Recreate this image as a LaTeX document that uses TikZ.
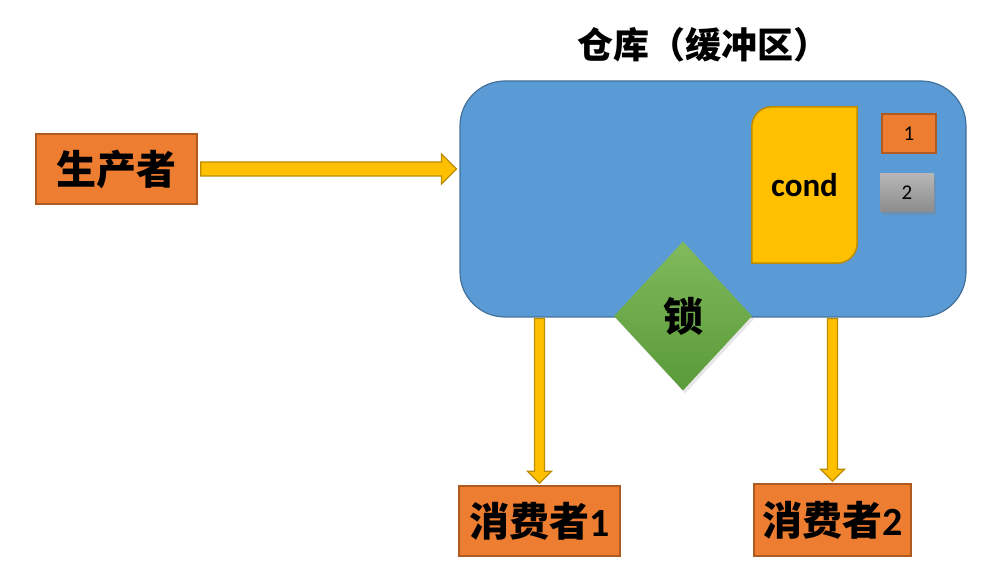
\documentclass[tikz,border=0pt]{standalone}
\usepackage{fontspec}
\setmainfont{Carlito}
\newfontfamily\cjk{Noto Sans CJK SC}
\usetikzlibrary{shapes.geometric,shadows,calc}
\definecolor{boxorange}{HTML}{ED7D31}
\definecolor{boxorangeedge}{HTML}{AE5A21}
\definecolor{flowyellow}{HTML}{FFC000}
\definecolor{flowyellowedge}{HTML}{BC8C00}
\definecolor{storeblue}{HTML}{5B9BD5}
\definecolor{storeblueedge}{HTML}{41719C}
\definecolor{locktop}{HTML}{80BA5C}
\definecolor{lockbot}{HTML}{5A9A38}
\definecolor{slottop}{HTML}{B6B6B6}
\definecolor{slotbot}{HTML}{8C8C8C}
\tikzset{
  actor/.style={rectangle, draw=boxorangeedge, line width=1.5pt, fill=boxorange, minimum width=161pt, minimum height=70pt, inner sep=0pt, font=\fontsize{40}{42}\selectfont\bfseries},
  store/.style={rectangle, rounded corners=45pt, draw=storeblueedge, line width=1.2pt, fill=storeblue, minimum width=506pt, minimum height=236pt},
  condbox/.style={draw=flowyellowedge, line width=1.5pt, fill=flowyellow},
  slotA/.style={rectangle, draw=boxorangeedge, line width=1.5pt, fill=boxorange, minimum width=54pt, minimum height=39pt, inner sep=0pt, font=\fontsize{21}{21}\selectfont},
  slotB/.style={rectangle, top color=slottop, bottom color=slotbot, minimum width=54pt, minimum height=38pt, inner sep=0pt, font=\fontsize{21}{21}\selectfont, drop shadow={shadow xshift=2pt, shadow yshift=-3pt, opacity=0.35}},
  lock/.style={diamond, aspect=0.93, top color=locktop, bottom color=lockbot, minimum width=138pt, minimum height=149pt, inner sep=0pt, font=\cjk\fontsize{40}{42}\selectfont\bfseries, drop shadow={shadow xshift=2pt, shadow yshift=-3pt, opacity=0.2}},
  flow/.style={fill=flowyellow, draw=flowyellowedge, line width=1.2pt, line join=miter},
}

\begin{document}
\begin{tikzpicture}[x=1pt, y=1pt]
\useasboundingbox (0,0) rectangle (983,587);
% producer and title
\node[actor] (prod) at (116.5,418) {\cjk 生产者};
\node[font=\cjk\fontsize{36}{38}\selectfont\bfseries] (title) at (703,542) {仓库（缓冲区）};
% warehouse
\node[store] (store) at (713,388) {};
% condition variable with two waiting slots
\node[minimum width=105pt, minimum height=156pt, inner sep=0pt] (cond) at (804.5,402) {};
\draw[condbox] (cond.south west) -- ([yshift=-20pt]cond.north west) arc (180:90:20pt)
  -- (cond.north east) -- ([yshift=20pt]cond.south east) arc (0:-90:20pt) -- cycle;
\node[font=\fontsize{33}{35}\selectfont\bfseries] at (cond) {cond};
\node[slotA] (slot1) at (909,453.5) {1};
\node[slotB] (slot2) at (907,394) {2};
% consumers
\node[actor] (cons1) at (539.5,66) {{\cjk 消费者}1};
\node[actor, minimum width=157pt, minimum height=72pt] (cons2) at (832.5,67) {{\cjk 消费者}2};
% block arrows
\draw[flow] let \p1=(prod.east), \p2=(store.west) in
  (\x1+3pt,\y1+7pt) -- (\x2-18pt,\y1+7pt) -- (\x2-18pt,\y1+15pt) -- (\x2-3pt,\y1)
  -- (\x2-18pt,\y1-15pt) -- (\x2-18pt,\y1-7pt) -- (\x1+3pt,\y1-7pt) -- cycle;
\draw[flow] let \p1=(cons1 |- store.south), \p2=(cons1.north) in
  (\x1-5pt,\y1-1pt) -- (\x1-5pt,\y2+14pt) -- (\x1-12pt,\y2+14pt) -- (\x1,\y2+2pt)
  -- (\x1+12pt,\y2+14pt) -- (\x1+5pt,\y2+14pt) -- (\x1+5pt,\y1-1pt) -- cycle;
\draw[flow] let \p1=(cons2 |- store.south), \p2=(cons2.north) in
  (\x1-5pt,\y1-1pt) -- (\x1-5pt,\y2+14pt) -- (\x1-12pt,\y2+14pt) -- (\x1,\y2+2pt)
  -- (\x1+12pt,\y2+14pt) -- (\x1+5pt,\y2+14pt) -- (\x1+5pt,\y1-1pt) -- cycle;
% lock
\node[lock] (lock) at (683,271) {锁};
\end{tikzpicture}
\end{document}
